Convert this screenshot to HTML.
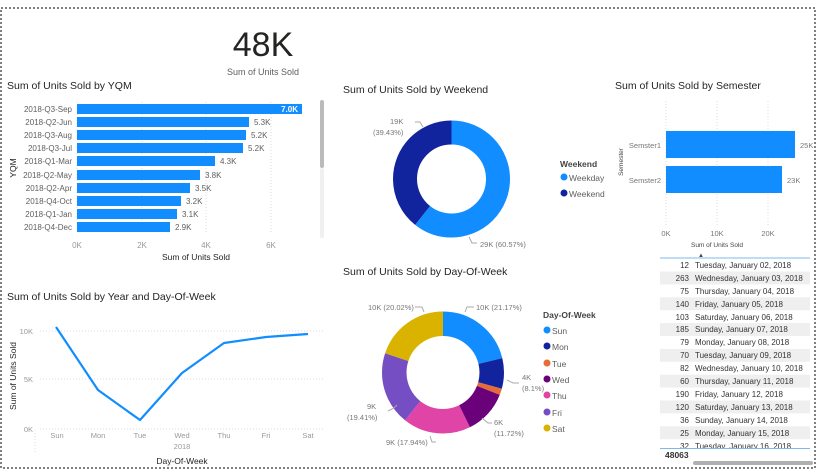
<!DOCTYPE html>
<html><head><meta charset="utf-8"><style>
html,body{margin:0;padding:0;background:#fff;}
svg{display:block;font-family:"Liberation Sans",sans-serif;}
</style></head><body>
<svg width="833" height="470" viewBox="0 0 833 470" xmlns="http://www.w3.org/2000/svg">
<defs><clipPath id="tc"><rect x="655" y="258" width="160" height="190"/></clipPath></defs>
<rect x="1" y="8" width="814" height="460" fill="none" stroke="#555" stroke-width="1.5" stroke-dasharray="2,2"/>
<!-- KPI -->
<text x="263" y="56" font-size="34" text-anchor="middle" fill="#252423">48K</text>
<text x="263" y="75" font-size="9" text-anchor="middle" fill="#605e5c">Sum of Units Sold</text>

<!-- YQM -->
<text x="7" y="89" font-size="10.5" fill="#252423">Sum of Units Sold by YQM</text>
<g stroke="#ddd" stroke-dasharray="1,2"><line x1="77" y1="102" x2="77" y2="234"/><line x1="142" y1="102" x2="142" y2="234"/><line x1="206" y1="102" x2="206" y2="234"/><line x1="271" y1="102" x2="271" y2="234"/></g>
<g fill="#118dff">
<rect x="77" y="104" width="225" height="10"/><rect x="77" y="117" width="172" height="10"/><rect x="77" y="130" width="169" height="10"/><rect x="77" y="143" width="166" height="10"/><rect x="77" y="156" width="138" height="10"/><rect x="77" y="170" width="123" height="10"/><rect x="77" y="183" width="113" height="10"/><rect x="77" y="196" width="104" height="10"/><rect x="77" y="209" width="100" height="10"/><rect x="77" y="222" width="93" height="10"/>
</g>
<g font-size="8" fill="#605e5c" text-anchor="end">
<text x="72" y="112">2018-Q3-Sep</text><text x="72" y="125">2018-Q2-Jun</text><text x="72" y="138">2018-Q3-Aug</text><text x="72" y="151">2018-Q3-Jul</text><text x="72" y="164">2018-Q1-Mar</text><text x="72" y="178">2018-Q2-May</text><text x="72" y="191">2018-Q2-Apr</text><text x="72" y="204">2018-Q4-Oct</text><text x="72" y="217">2018-Q1-Jan</text><text x="72" y="230">2018-Q4-Dec</text>
</g>
<text x="298" y="112" font-size="8" fill="#fff" font-weight="bold" text-anchor="end">7.0K</text>
<g font-size="8" fill="#605e5c">
<text x="254" y="125">5.3K</text><text x="251" y="138">5.2K</text><text x="248" y="151">5.2K</text><text x="220" y="164">4.3K</text><text x="205" y="178">3.8K</text><text x="195" y="191">3.5K</text><text x="186" y="204">3.2K</text><text x="182" y="217">3.1K</text><text x="175" y="230">2.9K</text>
</g>
<g font-size="8" fill="#999" text-anchor="middle"><text x="77" y="248">0K</text><text x="142" y="248">2K</text><text x="206" y="248">4K</text><text x="271" y="248">6K</text></g>
<text x="196" y="260" font-size="8.5" fill="#252423" text-anchor="middle">Sum of Units Sold</text>
<text transform="translate(16,168) rotate(-90)" font-size="8.5" fill="#252423" text-anchor="middle">YQM</text>
<rect x="320" y="100" width="4" height="68" rx="2" fill="#bbb"/>
<rect x="320" y="168" width="4" height="70" rx="2" fill="#f0f0f0"/>

<!-- Weekend donut -->
<text x="343" y="93" font-size="10.5" fill="#252423">Sum of Units Sold by Weekend</text>
<g transform="translate(451.5,179) rotate(-90)" fill="none" stroke-width="24">
<circle r="46.5" stroke="#118dff" stroke-dasharray="177 300"/>
<circle r="46.5" stroke="#12239e" stroke-dasharray="115.2 300" stroke-dashoffset="-177"/>
</g>
<g font-size="7.5" fill="#777"><text x="390" y="124">19K</text><text x="373" y="135">(39.43%)</text><text x="480" y="247">29K (60.57%)</text></g>
<polyline points="415,122 420,122 423,127" fill="none" stroke="#aaa"/>
<polyline points="469,237 472,243 477,243" fill="none" stroke="#aaa"/>
<text x="560" y="167" font-size="8.5" font-weight="bold" fill="#444">Weekend</text>
<circle cx="564" cy="177" r="3.5" fill="#118dff"/><text x="569" y="181" font-size="8.5" fill="#605e5c">Weekday</text>
<circle cx="564" cy="193" r="3.5" fill="#12239e"/><text x="569" y="197" font-size="8.5" fill="#605e5c">Weekend</text>

<!-- Semester -->
<text x="615" y="89" font-size="10.5" fill="#252423">Sum of Units Sold by Semester</text>
<g stroke="#ddd" stroke-dasharray="1,2"><line x1="666" y1="101" x2="666" y2="225"/><line x1="717" y1="101" x2="717" y2="225"/><line x1="768" y1="101" x2="768" y2="225"/></g>
<rect x="666" y="131" width="129" height="27" fill="#118dff"/>
<rect x="666" y="166" width="116" height="27" fill="#118dff"/>
<g font-size="7.5" fill="#777"><text x="661" y="148" text-anchor="end">Semster1</text><text x="661" y="183" text-anchor="end">Semster2</text><text x="800" y="148">25K</text><text x="787" y="183">23K</text>
<text x="666" y="236" text-anchor="middle">0K</text><text x="717" y="236" text-anchor="middle">10K</text><text x="768" y="236" text-anchor="middle">20K</text></g>
<text x="717" y="247" font-size="6.5" fill="#444" text-anchor="middle">Sum of Units Sold</text>
<text transform="translate(623,162) rotate(-90)" font-size="6.5" fill="#444" text-anchor="middle">Semester</text>

<!-- Line chart -->
<text x="7" y="300" font-size="10.5" fill="#252423">Sum of Units Sold by Year and Day-Of-Week</text>
<g stroke="#ddd" stroke-dasharray="1,2"><line x1="40" y1="331" x2="325" y2="331"/><line x1="40" y1="379" x2="325" y2="379"/><line x1="40" y1="429" x2="325" y2="429"/></g>
<line x1="35" y1="430" x2="35" y2="453" stroke="#ddd" stroke-dasharray="1,2"/>
<g font-size="7.5" fill="#999" text-anchor="end"><text x="33" y="334">10K</text><text x="33" y="382">5K</text><text x="33" y="432">0K</text></g>
<polyline points="56,327 98,390 140,420 182,373 224,343 266,337 308,334" fill="none" stroke="#118dff" stroke-width="2.2" stroke-linejoin="round"/>
<g font-size="7.5" fill="#999" text-anchor="middle"><text x="57" y="438">Sun</text><text x="98" y="438">Mon</text><text x="140" y="438">Tue</text><text x="182" y="438">Wed</text><text x="224" y="438">Thu</text><text x="266" y="438">Fri</text><text x="308" y="438">Sat</text><text x="182" y="449">2018</text></g>
<text x="182" y="464" font-size="8.5" fill="#252423" text-anchor="middle">Day-Of-Week</text>
<text transform="translate(16,376) rotate(-90)" font-size="8.5" fill="#252423" text-anchor="middle">Sum of Units Sold</text>

<!-- Day of week donut -->
<text x="343" y="275" font-size="10.5" fill="#252423">Sum of Units Sold by Day-Of-Week</text>
<g transform="translate(443,372.5) rotate(-90)" fill="none" stroke-width="24.5">
<circle r="48.75" stroke="#118dff" stroke-dasharray="64.85 400"/>
<circle r="48.75" stroke="#12239e" stroke-dasharray="24.8 400" stroke-dashoffset="-64.85"/>
<circle r="48.75" stroke="#e66c37" stroke-dasharray="5.1 400" stroke-dashoffset="-89.65"/>
<circle r="48.75" stroke="#6b007b" stroke-dasharray="35.9 400" stroke-dashoffset="-94.75"/>
<circle r="48.75" stroke="#e044a7" stroke-dasharray="54.95 400" stroke-dashoffset="-130.65"/>
<circle r="48.75" stroke="#744ec2" stroke-dasharray="59.45 400" stroke-dashoffset="-185.6"/>
<circle r="48.75" stroke="#d9b300" stroke-dasharray="61.3 400" stroke-dashoffset="-245.05"/>
</g>
<g font-size="7.5" fill="#777">
<text x="368" y="310">10K (20.02%)</text><text x="476" y="310">10K (21.17%)</text>
<text x="522" y="380">4K</text><text x="522" y="391">(8.1%)</text>
<text x="494" y="425">6K</text><text x="494" y="436">(11.72%)</text>
<text x="386" y="445">9K (17.94%)</text>
<text x="367" y="409">9K</text><text x="347" y="420">(19.41%)</text>
</g>
<g fill="none" stroke="#aaa"><polyline points="415,307 422,307 424,312"/><polyline points="474,307 467,307 465,312"/><polyline points="519,383 513,383 507,380"/><polyline points="492,423 488,423 482,418"/><polyline points="436,442 432,442 430,436"/><polyline points="388,411 394,408 397,405"/></g>
<text x="543" y="318" font-size="8.5" font-weight="bold" fill="#444">Day-Of-Week</text>
<g font-size="8.5" fill="#605e5c">
<circle cx="547" cy="330" r="3.5" fill="#118dff"/><text x="552" y="334">Sun</text>
<circle cx="547" cy="346" r="3.5" fill="#12239e"/><text x="552" y="350">Mon</text>
<circle cx="547" cy="363" r="3.5" fill="#e66c37"/><text x="552" y="367">Tue</text>
<circle cx="547" cy="379" r="3.5" fill="#6b007b"/><text x="552" y="383">Wed</text>
<circle cx="547" cy="395" r="3.5" fill="#e044a7"/><text x="552" y="399">Thu</text>
<circle cx="547" cy="412" r="3.5" fill="#744ec2"/><text x="552" y="416">Fri</text>
<circle cx="547" cy="428" r="3.5" fill="#d9b300"/><text x="552" y="432">Sat</text>
</g>

<!-- Table -->
<text x="698" y="257" font-size="6" fill="#444">▲</text>
<line x1="660" y1="258" x2="810" y2="258" stroke="#7fb8ec"/>
<g clip-path="url(#tc)">
<g fill="#efefef"><rect x="660" y="271.5" width="150" height="12.9"/><rect x="660" y="297.3" width="150" height="12.9"/><rect x="660" y="323.1" width="150" height="12.9"/><rect x="660" y="348.9" width="150" height="12.9"/><rect x="660" y="374.7" width="150" height="12.9"/><rect x="660" y="400.5" width="150" height="12.9"/><rect x="660" y="426.3" width="150" height="12.9"/></g>
<g font-size="8" fill="#333">
<text x="689" y="268" text-anchor="end">12</text><text x="695" y="268">Tuesday, January 02, 2018</text>
<text x="689" y="281" text-anchor="end">263</text><text x="695" y="281">Wednesday, January 03, 2018</text>
<text x="689" y="294" text-anchor="end">75</text><text x="695" y="294">Thursday, January 04, 2018</text>
<text x="689" y="307" text-anchor="end">140</text><text x="695" y="307">Friday, January 05, 2018</text>
<text x="689" y="320" text-anchor="end">103</text><text x="695" y="320">Saturday, January 06, 2018</text>
<text x="689" y="332" text-anchor="end">185</text><text x="695" y="332">Sunday, January 07, 2018</text>
<text x="689" y="345" text-anchor="end">79</text><text x="695" y="345">Monday, January 08, 2018</text>
<text x="689" y="358" text-anchor="end">70</text><text x="695" y="358">Tuesday, January 09, 2018</text>
<text x="689" y="371" text-anchor="end">82</text><text x="695" y="371">Wednesday, January 10, 2018</text>
<text x="689" y="384" text-anchor="end">60</text><text x="695" y="384">Thursday, January 11, 2018</text>
<text x="689" y="397" text-anchor="end">190</text><text x="695" y="397">Friday, January 12, 2018</text>
<text x="689" y="410" text-anchor="end">120</text><text x="695" y="410">Saturday, January 13, 2018</text>
<text x="689" y="423" text-anchor="end">36</text><text x="695" y="423">Sunday, January 14, 2018</text>
<text x="689" y="436" text-anchor="end">25</text><text x="695" y="436">Monday, January 15, 2018</text>
<text x="689" y="449" text-anchor="end">32</text><text x="695" y="449">Tuesday, January 16, 2018</text>
</g>
</g>
<line x1="660" y1="448.5" x2="810" y2="448.5" stroke="#7fb8ec"/>
<text x="665" y="458" font-size="8.5" font-weight="bold" fill="#333">48063</text>
<rect x="693" y="461" width="120" height="4" rx="2" fill="#b0b0b0"/>
</svg>
</body></html>
